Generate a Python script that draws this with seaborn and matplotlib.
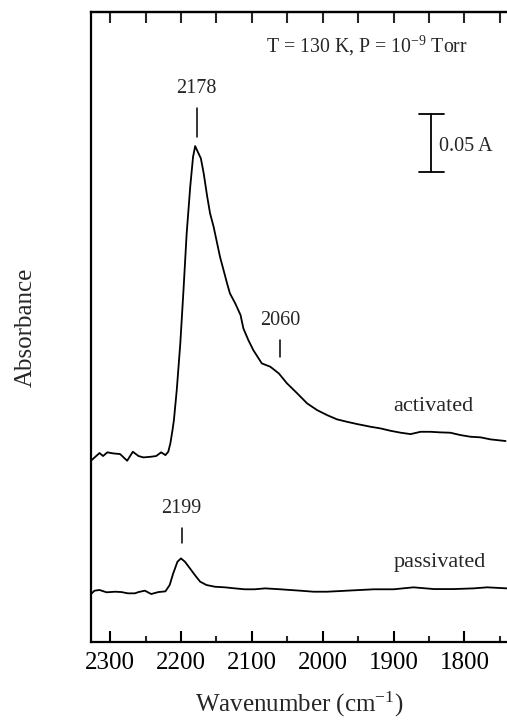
import matplotlib
matplotlib.use("Agg")
import matplotlib.pyplot as plt
import seaborn as sns
import pandas as pd
from matplotlib.ticker import MultipleLocator, NullLocator

# IR spectra of adsorbed CO: wavenumber (cm^-1) and absorbance (offset traces)
activated_wn = [2326, 2315, 2310, 2304, 2296, 2286, 2282, 2276, 2268, 2260,
                2253, 2242, 2235, 2228, 2222, 2218, 2215, 2212, 2210, 2206,
                2201, 2196.5, 2192, 2187, 2183, 2180, 2177, 2172, 2168, 2163,
                2159, 2154, 2149, 2145, 2140, 2135, 2131, 2123.5, 2116, 2112,
                2105, 2098, 2090.5, 2086, 2074, 2062, 2050.5, 2036, 2022, 2008,
                1994, 1980, 1966, 1951.5, 1937.5, 1933, 1919, 1904.5, 1890, 1876,
                1862, 1848, 1834, 1820, 1806, 1791.5, 1777.5, 1763, 1742]
activated_abs = [0.1577, 0.1638, 0.1612, 0.1644, 0.1635, 0.1629, 0.1606, 0.1571, 0.1649, 0.1612,
                 0.1600, 0.1606, 0.1612, 0.1644, 0.1620, 0.1649, 0.1722, 0.1837, 0.1924, 0.2184,
                 0.2588, 0.3050, 0.3542, 0.3945, 0.4205, 0.4298, 0.4257, 0.4192, 0.4062, 0.3859,
                 0.3715, 0.3599, 0.3455, 0.3339, 0.3224, 0.3108, 0.3022, 0.2935, 0.2834, 0.2718,
                 0.2617, 0.2530, 0.2458, 0.2415, 0.2386, 0.2328, 0.2242, 0.2155, 0.2068, 0.2010,
                 0.1967, 0.1930, 0.1909, 0.1889, 0.1872, 0.1866, 0.1852, 0.1831, 0.1814, 0.1802,
                 0.1822, 0.1822, 0.1817, 0.1814, 0.1794, 0.1779, 0.1774, 0.1756, 0.1742]

passivated_wn = [2326, 2322, 2315, 2305, 2293, 2284, 2275, 2265, 2260, 2251,
                 2242, 2232, 2222, 2216, 2211, 2205, 2200, 2194.5, 2187.5, 2180.5,
                 2173, 2164, 2152, 2138, 2124, 2110, 2096, 2081.5, 2060, 2032,
                 2013, 1994, 1975, 1947, 1928, 1900, 1872, 1843, 1815, 1787,
                 1768, 1740]
passivated_abs = [0.0422, 0.0445, 0.0451, 0.0431, 0.0436, 0.0433, 0.0422, 0.0422, 0.0433, 0.0445,
                  0.0416, 0.0433, 0.0439, 0.0494, 0.0595, 0.0696, 0.0725, 0.0696, 0.0639, 0.0581,
                  0.0523, 0.0494, 0.0479, 0.0474, 0.0465, 0.0457, 0.0457, 0.0465, 0.0457, 0.0445,
                  0.0436, 0.0436, 0.0442, 0.0451, 0.0457, 0.0457, 0.0474, 0.0459, 0.0459, 0.0465,
                  0.0474, 0.0465]

peak_positions = [2178, 2060, 2199]
peak_labels = ["2178", "2060", "2199"]
scale_bar_value = 0.05

spectra = pd.concat([
    pd.DataFrame({"wavenumber": activated_wn, "absorbance": activated_abs, "sample": "activated"}),
    pd.DataFrame({"wavenumber": passivated_wn, "absorbance": passivated_abs, "sample": "passivated"}),
])

sns.set_style("ticks")
plt.rcParams["font.family"] = ["Liberation Serif", "DejaVu Serif"]
plt.rcParams["mathtext.fontset"] = "custom"
plt.rcParams["mathtext.rm"] = "Liberation Serif"
plt.rcParams["mathtext.it"] = "Liberation Serif:italic"

fig = plt.figure(figsize=(5.07, 7.2), dpi=100)
ax = fig.add_axes([0.1795, 0.1083, 0.8205, 0.875])

sns.lineplot(data=spectra, x="wavenumber", y="absorbance", units="sample",
             estimator=None, color="black", linewidth=1.3, ax=ax, legend=False)

ax.set_xlim(2327, 1740)
ax.set_ylim(0, 0.546)

for s in ["left", "bottom", "top"]:
    ax.spines[s].set_linewidth(1.6)
    ax.spines[s].set_color("black")
ax.spines["right"].set_visible(False)

ax.xaxis.set_major_locator(MultipleLocator(100))
ax.xaxis.set_minor_locator(MultipleLocator(50))
ax.yaxis.set_major_locator(NullLocator())
ax.tick_params(axis="x", which="major", direction="in", length=8, width=1.5,
               labelsize=18, pad=7, colors="black")
ax.tick_params(axis="x", which="minor", direction="in", length=4, width=1.5)

top = ax.secondary_xaxis("top")
top.xaxis.set_major_locator(MultipleLocator(50))
top.tick_params(direction="in", length=8, width=1.5, labeltop=False)
top.spines["top"].set_linewidth(1.6)

ax.set_xlabel("Wavenumber (cm$^{-1}$)", fontsize=18, labelpad=11.5)
ax.set_ylabel("Absorbance", fontsize=18, labelpad=39)

# condition text
ax.text(1937, 0.517, "T = 130 K, P = 10$^{-9}$ Torr", fontsize=14.3,
        ha="center", va="center")

# peak markers
marker_spans = [(0.4376, 0.4627, 0.480), (0.2472, 0.2617, 0.279), (0.0858, 0.0988, 0.1161)]
for pos, lab, (y0, y1, yt) in zip(peak_positions, peak_labels, marker_spans):
    ax.plot([pos, pos], [y0, y1], color="black", linewidth=1.1)
    ax.text(pos, yt, lab, fontsize=14.5, ha="center", va="center")

# trace labels
ax.text(1844, 0.2045, "activated", fontsize=16, ha="center", va="center")
ax.text(1835, 0.0685, "passivated", fontsize=16, ha="center", va="center")

# absorbance scale bar
bx, by0 = 1847, 0.4075
ax.plot([bx, bx], [by0, by0 + scale_bar_value], color="black", linewidth=1.3)
for yy in (by0, by0 + scale_bar_value):
    ax.plot([bx + 17.7, bx - 17.7], [yy, yy], color="black", linewidth=1.3)
ax.text(1836, by0 + scale_bar_value / 2 - 0.003, f"{scale_bar_value:.2f} A",
        fontsize=14.5, ha="left", va="center")

fig.savefig("out.png", dpi=100)
